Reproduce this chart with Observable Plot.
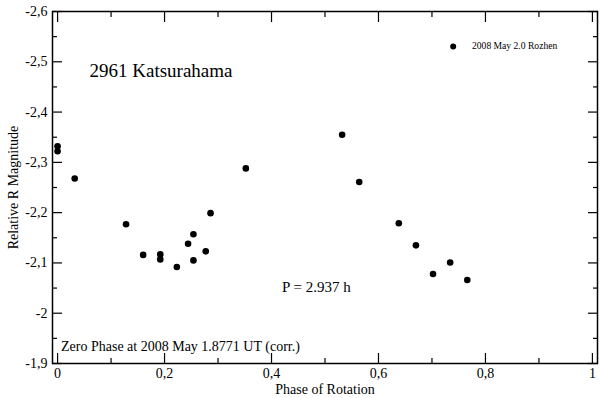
<!DOCTYPE html>
<html>
<head>
<meta charset="utf-8">
<script src="https://cdn.jsdelivr.net/npm/d3@7"></script>
<script src="https://cdn.jsdelivr.net/npm/@observablehq/plot@0.6"></script>
<style>
  html, body { margin: 0; padding: 0; background: #fff; }
  svg, svg text { font-family: "Liberation Serif", "Times New Roman", serif !important; }
</style>
</head>
<body>
<div id="chart"></div>
<script>
// Data
const phase = [0.000, 0.000, 0.032, 0.128, 0.160, 0.192, 0.192, 0.223, 0.244, 0.254, 0.254, 0.277, 0.286, 0.352, 0.532, 0.564, 0.638, 0.670, 0.702, 0.734, 0.766];
const mag   = [-2.332, -2.322, -2.268, -2.177, -2.116, -2.117, -2.107, -2.092, -2.138, -2.157, -2.105, -2.123, -2.199, -2.288, -2.355, -2.261, -2.179, -2.135, -2.078, -2.101, -2.066];

const xMajorTicks = [0, 0.2, 0.4, 0.6, 0.8, 1];
const xMinorTicks = [0.1, 0.3, 0.5, 0.7, 0.9];
const yMajorTicks = [-2.6, -2.5, -2.4, -2.3, -2.2, -2.1, -2, -1.9];
const yMinorTicks = [-2.55, -2.45, -2.35, -2.25, -2.15, -2.05, -1.95];

const titleText = ["2961 Katsurahama"];
const legendLabel = ["2008 May 2.0 Rozhen"];
const periodText = ["P = 2.937 h"];
const zeroPhaseText = ["Zero Phase at 2008 May 1.8771 UT (corr.)"];
const xLabel = ["Phase of Rotation"];
const yLabel = ["Relative R Magnitude"];

const data = phase.map((p, i) => ({phase: p, mag: mag[i]}));
const fmt = d => String(+d.toFixed(2)).replace(".", ",");
const blank = () => "";

function ticksOnly(axis, values, anchor, size) {
  return axis(values, {anchor, tickSize: size, tickFormat: blank, label: null, strokeWidth: 1.2, stroke: "#000"});
}

const plot = Plot.plot({
  width: 600,
  height: 398,
  marginLeft: 52,
  marginRight: 3,
  marginTop: 11,
  marginBottom: 35,
  style: {fontFamily: "'Liberation Serif', 'Times New Roman', serif", background: "#fff", color: "#000"},
  x: {domain: [-0.0095, 1.0095]},
  y: {domain: [-2.6, -1.9], reverse: true},
  marks: [
    Plot.frame({stroke: "#000", strokeWidth: 1.5}),
    // bottom
    ticksOnly(Plot.axisX, xMajorTicks, "bottom", -10),
    ticksOnly(Plot.axisX, xMinorTicks, "bottom", -5),
    Plot.axisX(xMajorTicks, {anchor: "bottom", tickSize: 0, tickPadding: 5, tickFormat: fmt, fontSize: 14, label: null}),
    // top
    ticksOnly(Plot.axisX, xMajorTicks, "top", -10),
    ticksOnly(Plot.axisX, xMinorTicks, "top", -5),
    // left
    ticksOnly(Plot.axisY, yMajorTicks, "left", -10),
    ticksOnly(Plot.axisY, yMinorTicks, "left", -5),
    Plot.axisY(yMajorTicks, {anchor: "left", tickSize: 0, tickPadding: 5, tickFormat: fmt, fontSize: 14, label: null}),
    // right
    ticksOnly(Plot.axisY, yMajorTicks, "right", -10),
    ticksOnly(Plot.axisY, yMinorTicks, "right", -5),
    // data
    Plot.dot(data, {x: "phase", y: "mag", r: 3.3, fill: "#000", stroke: null}),
    // annotations
    Plot.text(titleText, {frameAnchor: "top-left", dx: 37, dy: 59.5, textAnchor: "start", lineAnchor: "middle", fontSize: 19, fill: "#000"}),
    Plot.text(periodText, {frameAnchor: "top-left", dx: 229.5, dy: 276, textAnchor: "start", lineAnchor: "middle", fontSize: 15, fill: "#000"}),
    Plot.text(zeroPhaseText, {frameAnchor: "top-left", dx: 8.5, dy: 335.5, textAnchor: "start", lineAnchor: "middle", fontSize: 14, fill: "#000"}),
    // legend
    Plot.dot(legendLabel, {x: null, y: null, frameAnchor: "top-left", dx: 400.7, dy: 35, r: 3, fill: "#000", stroke: null}),
    Plot.text(legendLabel, {frameAnchor: "top-left", dx: 419.5, dy: 34.5, textAnchor: "start", lineAnchor: "middle", fontSize: 9.6, fill: "#000"}),
    // axis labels
    Plot.text(xLabel, {frameAnchor: "bottom", dy: 26, textAnchor: "middle", lineAnchor: "middle", fontSize: 14, fill: "#000"}),
    Plot.text(yLabel, {frameAnchor: "left", dx: -39, dy: 0, rotate: -90, textAnchor: "middle", lineAnchor: "middle", fontSize: 14, fill: "#000"})
  ]
});
document.getElementById("chart").appendChild(plot);
</script>
</body>
</html>
